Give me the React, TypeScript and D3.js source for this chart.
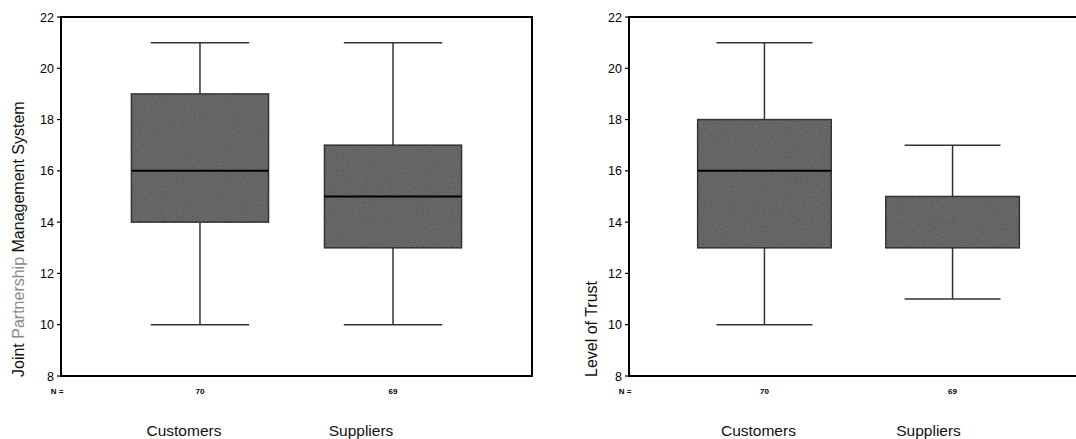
import React from "react";
import * as d3 from "d3";

// group labels and sample sizes
const categories = ["Customers", "Suppliers"];
const sampleSizes = ["70", "69"];
const yTicks = [8, 10, 12, 14, 16, 18, 20, 22];

// five-number summaries: [min, q1, median, q3, max]
const partnershipStats = [
  [10, 14, 16, 19, 21],
  [10, 13, 15, 17, 21],
];
const trustStats = [
  [10, 13, 16, 18, 21],
  [11, 13, 15, 15, 17],
];

const W = 1076;
const H = 439;
const TOP = 17;
const BOTTOM = 376;
const FONT = "'Liberation Sans', Arial, Helvetica, sans-serif";

type PanelProps = {
  x0: number;
  x1: number;
  stats: number[][];
  closed: boolean;
  labelShift: number[];
  titleX: number;
  title: React.ReactNode;
};

const BoxPanel = ({ x0, x1, stats, closed, labelShift, titleX, title }: PanelProps) => {
  const y = d3.scaleLinear().domain([8, 22]).range([BOTTOM, TOP]);
  const x = d3.scalePoint<string>().domain(categories).range([x0, x1]).padding(0.72);
  const step = x.step();
  const boxW = step * 0.71;
  const capW = step * 0.51;

  return (
    <g>
      {/* frame */}
      <line x1={x0} x2={x1} y1={TOP} y2={TOP} stroke="#000" strokeWidth={2} />
      <line x1={x0} x2={x1} y1={BOTTOM} y2={BOTTOM} stroke="#000" strokeWidth={2} />
      <line x1={x0} x2={x0} y1={TOP - 1} y2={BOTTOM + 1} stroke="#000" strokeWidth={2} />
      {closed && <line x1={x1} x2={x1} y1={TOP - 1} y2={BOTTOM + 1} stroke="#000" strokeWidth={2} />}

      {/* y ticks */}
      {yTicks.map((t) => (
        <g key={t}>
          <line x1={x0 - 4} x2={x0} y1={y(t)} y2={y(t)} stroke="#000" strokeWidth={1.2} />
          <text x={x0 - 7} y={y(t) + 4.5} textAnchor="end" fontSize={12.5} fontFamily={FONT} fill="#000">
            {t}
          </text>
        </g>
      ))}

      {/* boxes */}
      {categories.map((c, i) => {
        const [mn, q1, md, q3, mx] = stats[i];
        const cx = x(c)!;
        return (
          <g key={c}>
            <line x1={cx} x2={cx} y1={y(mx)} y2={y(q3)} stroke="#333" strokeWidth={1.5} />
            <line x1={cx} x2={cx} y1={y(q1)} y2={y(mn)} stroke="#333" strokeWidth={1.5} />
            <line x1={cx - capW / 2} x2={cx + capW / 2} y1={y(mx)} y2={y(mx)} stroke="#333" strokeWidth={1.5} />
            <line x1={cx - capW / 2} x2={cx + capW / 2} y1={y(mn)} y2={y(mn)} stroke="#333" strokeWidth={1.5} />
            <rect
              x={cx - boxW / 2}
              y={y(q3)}
              width={boxW}
              height={y(q1) - y(q3)}
              fill="#595959"
              stroke="#222"
              strokeWidth={1.5}
            />
            <rect
              x={cx - boxW / 2}
              y={y(q3)}
              width={boxW}
              height={y(q1) - y(q3)}
              filter="url(#grain)"
              opacity={0.25}
            />
            {md !== q3 && md !== q1 && (
              <line x1={cx - boxW / 2} x2={cx + boxW / 2} y1={y(md)} y2={y(md)} stroke="#000" strokeWidth={2} />
            )}
            <text x={cx} y={394} textAnchor="middle" fontSize={8} fontWeight="bold" fontFamily={FONT}>
              {sampleSizes[i]}
            </text>
            <text x={cx + labelShift[i]} y={436} textAnchor="middle" fontSize={15.5} fontFamily={FONT} fill="#111">
              {c}
            </text>
          </g>
        );
      })}

      <text x={x0 - 4} y={394} textAnchor="middle" fontSize={8} fontWeight="bold" fontFamily={FONT}>
        N =
      </text>

      <text
        transform={`translate(${titleX},${BOTTOM + 1}) rotate(-90)`}
        textAnchor="start"
        fontSize={16}
        fontFamily={FONT}
        fill="#111"
      >
        {title}
      </text>
    </g>
  );
};

export default function App() {
  return (
    <svg
      width={W}
      height={H}
      viewBox={`0 0 ${W} ${H}`}
      style={{ position: "absolute", left: 0, top: 0, background: "#fff" }}
    >
      <defs>
        <filter id="grain" x="0" y="0" width="100%" height="100%">
          <feTurbulence type="fractalNoise" baseFrequency="0.9" numOctaves="2" seed="3" />
          <feColorMatrix type="saturate" values="0" />
        </filter>
      </defs>
      <rect width={W} height={H} fill="#fff" />
      <BoxPanel
        x0={61}
        x1={532}
        stats={partnershipStats}
        closed={true}
        labelShift={[-16, -32]}
        titleX={24}
        title={
          <>
            <tspan>Joint </tspan>
            <tspan fill="#8a8a8a">Partnership</tspan>
            <tspan> Management System</tspan>
          </>
        }
      />
      <BoxPanel
        x0={629}
        x1={1088}
        stats={trustStats}
        closed={false}
        labelShift={[-6, -24]}
        titleX={597}
        title="Level of Trust"
      />
    </svg>
  );
}
